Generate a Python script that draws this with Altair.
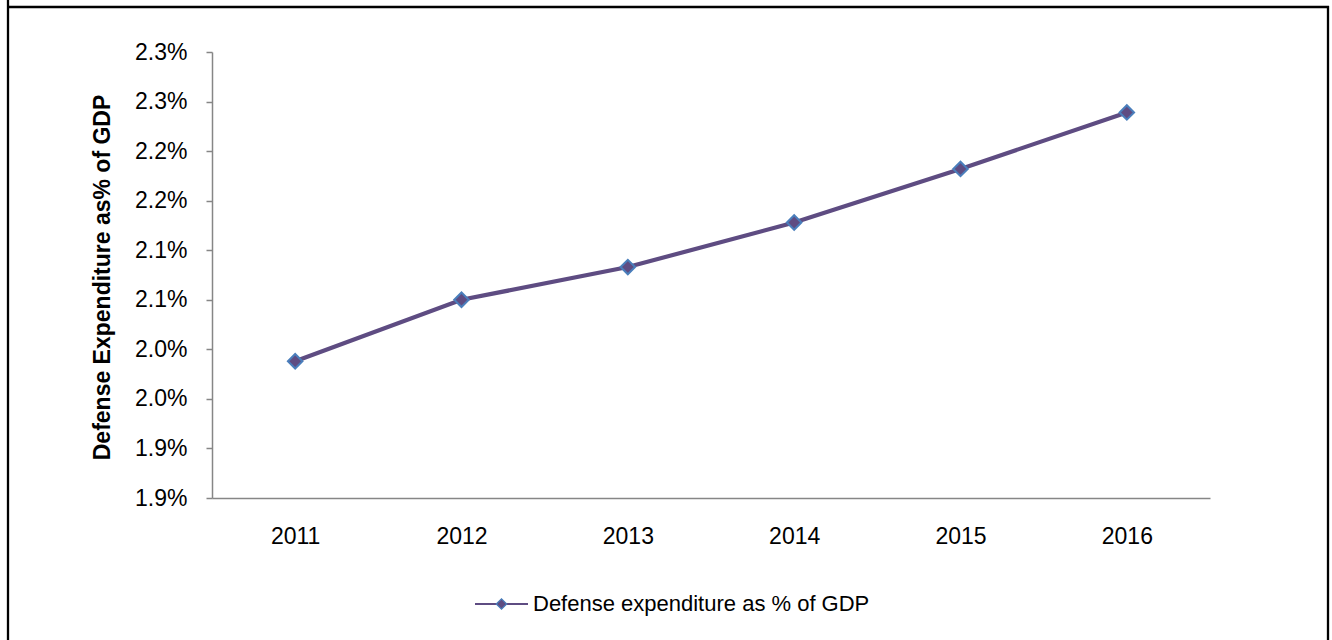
import json
import altair as alt
import pandas as pd

years = ["2011", "2012", "2013", "2014", "2015", "2016"]
values = [1.988, 2.050, 2.083, 2.128, 2.182, 2.239]
tick_values = [1.85, 1.90, 1.95, 2.00, 2.05, 2.10, 2.15, 2.20, 2.25, 2.30]
tick_labels = ["1.9%", "1.9%", "2.0%", "2.0%", "2.1%", "2.1%", "2.2%", "2.2%", "2.3%", "2.3%"]
series_name = "Defense expenditure as % of GDP"
y_title = "Defense Expenditure as% of GDP"

LINE = "#5E4C82"
EDGE = "#4A7EBB"
AXIS = "#868686"
FONT = "Liberation Sans"

W, H = 998, 446

df = pd.DataFrame({"year": years, "value": values})
one = pd.DataFrame({"name": [series_name]})

label_expr = json.dumps(tick_labels) + "[round((datum.value - 1.85) / 0.05)]"

x_enc = alt.X("year:O", scale=alt.Scale(type="point", padding=0.5),
              axis=alt.Axis(title=None, labelAngle=0, ticks=False, tickSize=0,
                            domainColor=AXIS, domainWidth=1.5,
                            labelFont=FONT, labelFontSize=23, labelColor="black",
                            labelPadding=27, grid=False))
y_enc = alt.Y("value:Q", scale=alt.Scale(domain=[1.85, 2.30], nice=False, zero=False),
              axis=alt.Axis(values=tick_values, labelExpr=label_expr, grid=False,
                            domainColor=AXIS, domainWidth=1.5, tickColor=AXIS,
                            tickWidth=1.5, tickSize=6, labelFont=FONT,
                            labelFontSize=23, labelColor="black", labelPadding=19,
                            title=y_title, titleFont=FONT, titleFontSize=23,
                            titleFontWeight="bold", titleColor="black",
                            titleAngle=270, titleX=-110, titleY=225,
                            titleAlign="center", titleBaseline="middle"))

line = alt.Chart(df).mark_line(color=LINE, strokeWidth=4.2).encode(x=x_enc, y=y_enc)
pts = alt.Chart(df).mark_point(shape="diamond", filled=True, fill=LINE, stroke=EDGE,
                               strokeWidth=2, size=210, opacity=1).encode(x="year:O", y="value:Q")

# legend
leg_rule = alt.Chart(one).mark_rule(color=LINE, strokeWidth=2).encode(
    x=alt.value(263), x2=alt.value(316), y=alt.value(552))
leg_pt = alt.Chart(one).mark_point(shape="diamond", filled=True, fill=LINE, stroke=EDGE,
                                   strokeWidth=1.2, size=110, opacity=1).encode(
    x=alt.value(289.5), y=alt.value(552))
leg_txt = alt.Chart(one).mark_text(align="left", baseline="middle", font=FONT,
                                   fontSize=22, color="black").encode(
    x=alt.value(321), y=alt.value(552), text="name:N")

# outer frame
fl = alt.Chart(one).mark_rule(color="black", strokeWidth=2.3).encode(
    x=alt.value(-204), y=alt.value(-52), y2=alt.value(588))
ft = alt.Chart(one).mark_rule(color="black", strokeWidth=2.3).encode(
    x=alt.value(-205), x2=alt.value(1117), y=alt.value(-45))
fr = alt.Chart(one).mark_rule(color="black", strokeWidth=2.3).encode(
    x=alt.value(1116), y=alt.value(-46), y2=alt.value(588))

chart = alt.layer(line, pts, leg_rule, leg_pt, leg_txt, fl, ft, fr).properties(
    width=W, height=H,
    padding={"left": 212, "top": 52, "right": 122, "bottom": 142},
    autosize=alt.AutoSizeParams(type="none"),
    background="white",
).configure_view(stroke=None)

chart.save("out.html", embed_options={"renderer": "svg", "actions": False})
